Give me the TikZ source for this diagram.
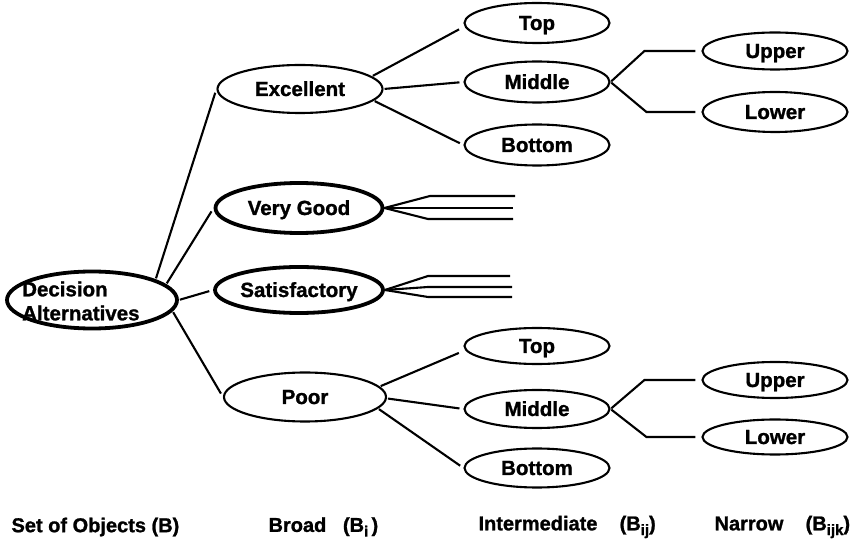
\documentclass[tikz,border=0pt]{standalone}
\usepackage{fontspec}
\setmainfont{Liberation Sans}[BoldFeatures={FakeBold=1.2}]
\usetikzlibrary{shapes.geometric}
\newcommand{\subidx}[1]{\raisebox{-0.45ex}{\fontsize{15}{15}\selectfont #1}}
\begin{document}
\begin{tikzpicture}[x=1pt,y=-1pt,
  every node/.style={font=\fontsize{20.5}{24}\selectfont\bfseries},
  alt/.style={ellipse,draw,line width=2.1pt,inner sep=0pt,text height=18pt,text depth=4pt},
  altbold/.style={alt,line width=3.8pt},
  link/.style={line width=2.1pt,shorten >=4pt,shorten <=1pt},
  stub/.style={line width=2.1pt},
  caption/.style={anchor=west,font=\fontsize{20}{24}\selectfont\bfseries}]
\useasboundingbox (0,0) rectangle (863,545);

% root
\node[altbold,minimum width=170pt,minimum height=57pt,text height=0pt,text depth=0pt] (da) at (92,300) {};
\node[anchor=west,align=left,inner sep=0pt] (datext) at (22,301) {Decision\\Alternatives};

% broad classes
\node[alt,minimum width=165pt,minimum height=48pt] (exc) at (300,89) {Excellent};
\node[altbold,minimum width=167pt,minimum height=50pt] (vg) at (299,208) {Very Good};
\node[altbold,minimum width=168pt,minimum height=46pt] (sat) at (299,290) {Satisfactory};
\node[alt,minimum width=162pt,minimum height=49pt] (poor) at (305,397) {Poor};

% intermediate classes under Excellent
\node[alt,minimum width=145pt,minimum height=40pt] (topa) at (537,23) {Top};
\node[alt,minimum width=145pt,minimum height=41pt] (mida) at (537,82) {Middle};
\node[alt,minimum width=145pt,minimum height=41pt] (bota) at (537,145) {Bottom};
% narrow classes under Middle
\node[alt,minimum width=145pt,minimum height=37pt] (uppa) at (775,51) {Upper};
\node[alt,minimum width=145pt,minimum height=40pt] (lowa) at (775,112) {Lower};

% intermediate classes under Poor
\node[alt,minimum width=145pt,minimum height=36pt] (topb) at (537,346) {Top};
\node[alt,minimum width=145pt,minimum height=38pt] (midb) at (537,409) {Middle};
\node[alt,minimum width=145pt,minimum height=39pt] (botb) at (537,468) {Bottom};
% narrow classes under Middle
\node[alt,minimum width=145pt,minimum height=36pt] (uppb) at (775,380) {Upper};
\node[alt,minimum width=145pt,minimum height=35pt] (lowb) at (775,437) {Lower};

% root to broad classes
\draw[link] (da.18) -- (exc.west);
\draw[link] (da.12) -- (vg.west);
\draw[link] (da.east) -- (sat.west);
\draw[link] (da.-8) -- (poor.west);

% Excellent to intermediate
\draw[link,shorten >=5pt] (exc.10) -- ([yshift=-4pt]topa.west);
\draw[link] (exc.east) -- (mida.west);
\draw[link] (exc.-9) -- (bota.west);
% Middle to narrow
\draw[link,shorten >=6pt] (mida.east) -- ([xshift=-57pt]uppa.west) -- (uppa.west);
\draw[link,shorten >=6pt] (mida.east) -- ([xshift=-55pt]lowa.west) -- (lowa.west);

% Poor to intermediate
\draw[link,shorten >=5pt] (poor.8) -- ([yshift=-5pt]topb.west);
\draw[link] (poor.-1) -- (midb.west);
\draw[link] (poor.-9) -- (botb.west);
% Middle to narrow
\draw[link,shorten >=6pt] (midb.east) -- ([xshift=-57pt]uppb.west) -- (uppb.west);
\draw[link,shorten >=6pt] (midb.east) -- ([xshift=-55pt]lowb.west) -- (lowb.west);

% unexpanded branches of Very Good and Satisfactory
\coordinate (vga) at (430,196);  \coordinate (vgae) at (515,196);
\coordinate (vgb) at (430,208);  \coordinate (vgbe) at (513,208);
\coordinate (vgc) at (428,219);  \coordinate (vgce) at (513,219);
\draw[stub] (vg.east) -- (vga) -- (vgae);
\draw[stub] (vg.east) -- (vgb) -- (vgbe);
\draw[stub] (vg.east) -- (vgc) -- (vgce);
\coordinate (saa) at (428,276);  \coordinate (saae) at (510,276);
\coordinate (sab) at (428,287);  \coordinate (sabe) at (512,287);
\coordinate (sac) at (428,297);  \coordinate (sace) at (512,297);
\draw[stub] (sat.east) -- (saa) -- (saae);
\draw[stub] (sat.east) -- (sab) -- (sabe);
\draw[stub] (sat.east) -- (sac) -- (sace);

% level captions
\node[caption] (c0) at (8,527) {Set of Objects (B)};
\node[caption] (c1) at (265,527) {Broad\ \ \ (B\subidx{i}\,)};
\node[caption] (c2) at (475,527) {Intermediate\ \ \ \ (B\subidx{ij})};
\node[caption] (c3) at (711,527) {Narrow\ \ \ \ (B\subidx{ijk})};
\end{tikzpicture}
\end{document}
